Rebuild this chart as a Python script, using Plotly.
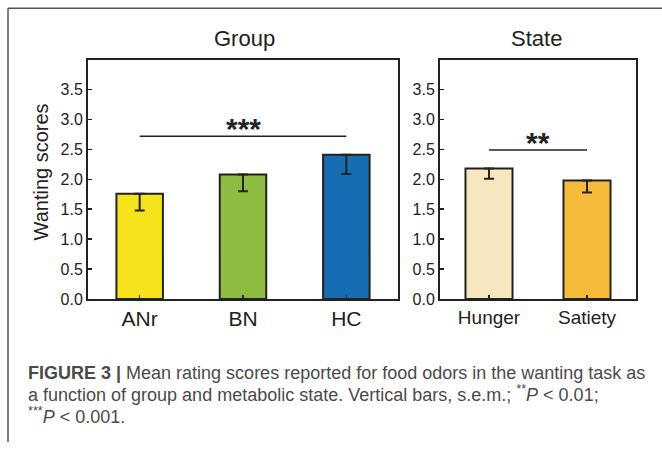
import plotly.graph_objects as go

W, H = 662, 451

# ---- data ----
group_cats = ["ANr", "BN", "HC"]
group_means = [1.76, 2.08, 2.41]
group_sem = [0.28, 0.28, 0.32]
group_colors = ["#F5E41B", "#8DBC41", "#166DB1"]

state_cats = ["Hunger", "Satiety"]
state_means = [2.18, 1.98]
state_sem = [0.17, 0.20]
state_colors = ["#F7E7BE", "#F6BB3A"]

y_ticks = [0.0, 0.5, 1.0, 1.5, 2.0, 2.5, 3.0, 3.5]
sig_group = {"from": "ANr", "to": "HC", "y": 2.72, "label": "***"}
sig_state = {"from": "Hunger", "to": "Satiety", "y": 2.49, "label": "**"}

def px(x):
    return x / W

def py(y):
    return 1 - y / H

FONT = "Liberation Sans, Arial, sans-serif"
DARK = "#222222"

fig = go.Figure()
fig.add_trace(go.Bar(
    x=group_cats, y=group_means, width=0.45,
    marker=dict(color=group_colors, line=dict(color=DARK, width=2)),
    error_y=dict(type="data", symmetric=False, array=[0] * len(group_sem),
                 arrayminus=group_sem, color=DARK, thickness=2, width=5),
    xaxis="x", yaxis="y", showlegend=False, hoverinfo="skip",
))
fig.add_trace(go.Bar(
    x=state_cats, y=state_means, width=0.48,
    marker=dict(color=state_colors, line=dict(color=DARK, width=2)),
    error_y=dict(type="data", symmetric=False, array=[0] * len(state_sem),
                 arrayminus=state_sem, color=DARK, thickness=2, width=5),
    xaxis="x2", yaxis="y2", showlegend=False, hoverinfo="skip",
))

yd = [py(305), py(61)]
axis_common = dict(showline=True, linecolor=DARK, linewidth=2, mirror=True,
                   ticks="inside", ticklen=4, tickwidth=1.5, tickcolor=DARK,
                   showgrid=False, zeroline=False, fixedrange=True)

fig.update_layout(
    width=W, height=H,
    margin=dict(l=0, r=0, t=0, b=0),
    paper_bgcolor="white", plot_bgcolor="white",
    font=dict(family=FONT, color=DARK),
    xaxis=dict(domain=[px(88), px(398)], range=[-0.5, 2.5], anchor="y",
               tickfont=dict(size=21, color=DARK), **axis_common),
    yaxis=dict(domain=yd, range=[0, 4], anchor="x", tickvals=y_ticks,
               tickformat=".1f", tickfont=dict(size=16, color=DARK), **axis_common),
    xaxis2=dict(domain=[px(440), px(636)], range=[-0.5, 1.5], anchor="y2",
                tickfont=dict(size=19, color=DARK), **axis_common),
    yaxis2=dict(domain=yd, range=[0, 4], anchor="x2", tickvals=y_ticks,
                tickformat=".1f", tickfont=dict(size=16, color=DARK), **axis_common),
    bargap=0,
)

# significance lines
for sig, xr, yr in [(sig_group, "x", "y"), (sig_state, "x2", "y2")]:
    fig.add_shape(type="line", xref=xr, yref=yr, x0=sig["from"], x1=sig["to"],
                  y0=sig["y"], y1=sig["y"], line=dict(color=DARK, width=1.5))

fig.add_annotation(xref="x", yref="y", x=1, y=sig_group["y"], text="<b>" + sig_group["label"] + "</b>",
                   showarrow=False, yanchor="bottom", yshift=-11,
                   font=dict(size=30, color=DARK, family=FONT))
fig.add_annotation(xref="x2", yref="y2", x=0.5, y=sig_state["y"], text="<b>" + sig_state["label"] + "</b>",
                   showarrow=False, yanchor="bottom", yshift=-11,
                   font=dict(size=30, color=DARK, family=FONT))

# panel titles
fig.add_annotation(xref="paper", yref="paper", x=px(244), y=py(39), text="Group",
                   showarrow=False, xanchor="center", yanchor="middle",
                   font=dict(size=22, color=DARK))
fig.add_annotation(xref="paper", yref="paper", x=px(536), y=py(39), text="State",
                   showarrow=False, xanchor="center", yanchor="middle",
                   font=dict(size=22, color=DARK))

# y-axis title
fig.add_annotation(xref="paper", yref="paper", x=px(41), y=py(176), text="Wanting scores",
                   showarrow=False, textangle=-90, xanchor="center", yanchor="middle",
                   font=dict(size=20, color=DARK))

# frame lines
fig.add_shape(type="line", xref="paper", yref="paper", x0=px(8), x1=1, y0=py(8.5), y1=py(8.5),
              line=dict(color="#555555", width=1.5))
fig.add_shape(type="line", xref="paper", yref="paper", x0=px(8), x1=px(8), y0=0, y1=py(8.5),
              line=dict(color="#555555", width=1.5))

# caption
cap_color = "#4a4a4a"
cap_lines = [
    "<b>FIGURE 3 |</b> Mean rating scores reported for food odors in the wanting task as",
    "a function of group and metabolic state. Vertical bars, s.e.m.; <sup>**</sup><i>P</i> &lt; 0.01;",
    "<sup>***</sup><i>P</i> &lt; 0.001.",
]
cap_y = [381, 402, 424]
for t, yy in zip(cap_lines, cap_y):
    fig.add_annotation(xref="paper", yref="paper", x=px(26), y=py(yy), text=t,
                       showarrow=False, xanchor="left", yanchor="middle",
                       font=dict(size=18, color=cap_color, family=FONT))

fig.write_html("out.html", config={"displayModeBar": False, "staticPlot": True},
               post_script="document.body.style.margin='0';document.body.style.overflow='hidden';")
